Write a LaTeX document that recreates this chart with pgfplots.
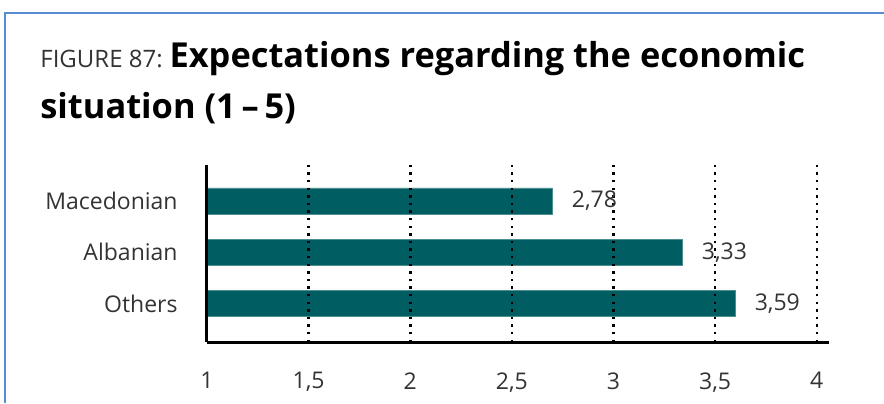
\documentclass[border=0pt]{standalone}
\usepackage{pgfplots}
\pgfplotsset{compat=1.18}
\usepackage{fontspec}
\setmainfont{Open Sans}
\definecolor{barteal}{HTML}{005E62}
\definecolor{framblue}{HTML}{5A8AD2}
\definecolor{txtgray}{HTML}{333333}
\begin{document}
\begin{tikzpicture}[x=0.5pt,y=0.5pt]
\useasboundingbox (0,0) rectangle (884,403);
% frame
\draw[framblue, line width=1pt] (5,0) -- (5,390) -- (884,390);
% title
\node[anchor=base west, inner sep=0pt] at (40,403-67) {{\fontsize{12}{14}\selectfont\color{txtgray}FIGURE 87:} {\fontsize{17.2}{20}\selectfont\bfseries Expectations regarding the economic}};
\node[anchor=base west, inner sep=0pt] at (40,403-118) {\fontsize{17.2}{20}\selectfont\bfseries situation (1\,–\,5)};
\begin{axis}[
  at={(103.5pt,30.5pt)}, anchor=south west,
  scale only axis, width=311pt, height=88.5pt,
  xmin=1, xmax=4.06, ymin=-0.75, ymax=2.70,
  xbar, bar width=13pt,
  axis on top,
  axis x line=bottom, axis y line=left,
  axis line style={-, line width=1.5pt, black},
  xtick={1,1.5,2,2.5,3,3.5,4},
  ytick={0,1,2}, yticklabels={Others,Albanian,Macedonian},
  major tick length=0pt,
  /pgf/number format/use comma,
  /pgf/number format/assume math mode=true,
  xmajorgrids,
  major grid style={black, line width=1.3pt, dash pattern=on 1.2pt off 2.6pt},
  tick label style={font=\fontsize{11.5}{13}\selectfont, text=txtgray, inner sep=0pt},
  xticklabel style={anchor=north, yshift=-15pt},
  yticklabel style={anchor=east, xshift=-14.5pt},
  nodes near coords,
  point meta=explicit symbolic,
  every node near coord/.append style={anchor=west, inner sep=0pt, xshift=9.5pt, font=\fontsize{11.5}{13}\selectfont, text=txtgray},
]
\addplot[fill=barteal, draw=barteal!70!white, line width=0.3pt] coordinates {(3.60,0) [3,59] (3.34,1) [3,33] (2.70,2) [2,78]};
\end{axis}
\end{tikzpicture}
\end{document}
